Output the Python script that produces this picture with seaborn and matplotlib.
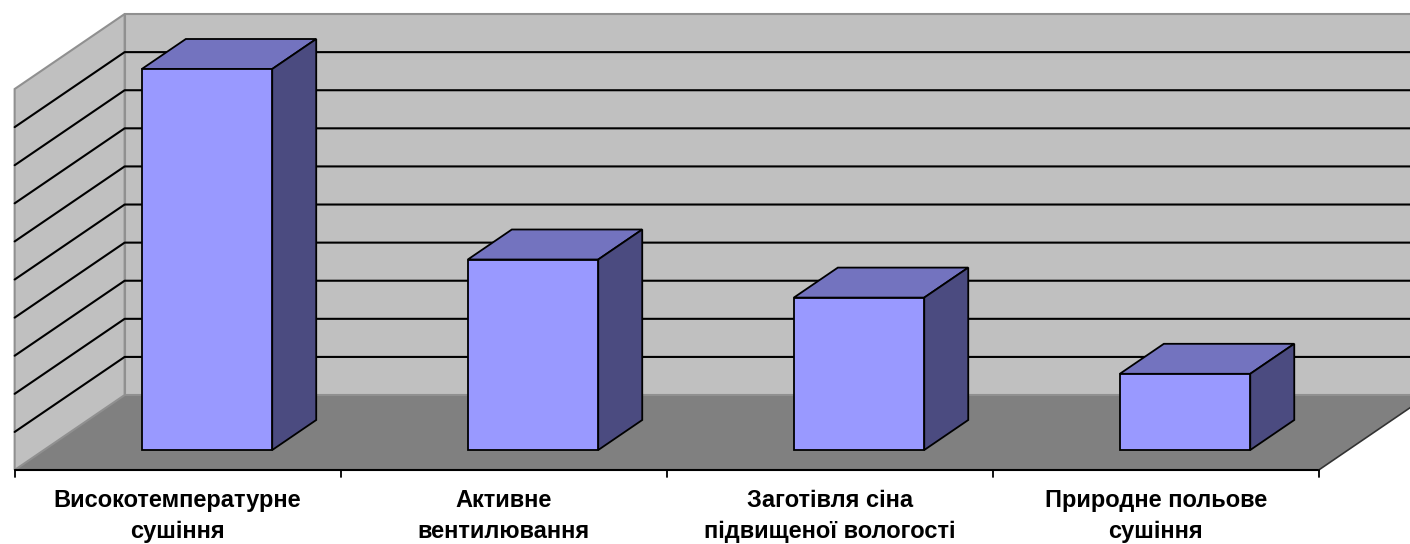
import matplotlib
matplotlib.use('Agg')
import matplotlib.pyplot as plt
import seaborn as sns
from matplotlib.patches import Polygon

# categories and values (no value axis shown on the original chart)
categories = ['Високотемпературне\nсушіння', 'Активне\nвентилювання',
              'Заготівля сіна\nпідвищеної вологості', 'Природне польове\nсушіння']
values = [10, 5, 4, 2]
grid_levels = list(range(0, 11))

front_col = '#9999FF'
top_col = '#7373BF'
side_col = '#4B4B80'
wall_col = '#C0C0C0'
floor_col = '#808080'

# oblique depth vector (full depth of the chart box) in data units
DX, DY = 0.3374, 1.9685
d_front, d_back = -0.267, 0.733   # floor front edge / back wall, relative to bar front plane
d_bar = 0.4                        # bar depth


def proj(x, v, d):
    return (x + d * DX, v + d * DY)


sns.set_style('white')
plt.rcParams['font.family'] = ['Liberation Sans', 'DejaVu Sans']

fig = plt.figure(figsize=(14.1, 5.44), dpi=100)
ax = fig.add_axes([0, 0, 1, 1])

sns.barplot(x=list(range(len(values))), y=values, width=0.4, color=front_col,
            saturation=1, edgecolor='black', linewidth=1.3, ax=ax, zorder=5)
bars = list(ax.patches)

x_lo, x_hi = -0.5, len(values) - 0.5
vmax = grid_levels[-1]

# floor
floor = [proj(x_lo, 0, d_front), proj(x_hi, 0, d_front),
         proj(x_hi, 0, d_back), proj(x_lo, 0, d_back)]
ax.add_patch(Polygon(floor, closed=True, facecolor=floor_col, edgecolor='none', zorder=1))
# back wall
back = [proj(x_lo, 0, d_back), proj(x_hi + 0.3, 0, d_back),
        proj(x_hi + 0.3, vmax, d_back), proj(x_lo, vmax, d_back)]
ax.add_patch(Polygon(back, closed=True, facecolor=wall_col, edgecolor='#909090',
                     linewidth=1.5, zorder=1))
# left wall
left = [proj(x_lo, 0, d_front), proj(x_lo, 0, d_back),
        proj(x_lo, vmax, d_back), proj(x_lo, vmax, d_front)]
ax.add_patch(Polygon(left, closed=True, facecolor=wall_col, edgecolor='#909090',
                     linewidth=1.5, zorder=1))

# gridlines on back and left walls
for g in grid_levels[1:-1]:
    a = proj(x_lo, g, d_front)
    b = proj(x_lo, g, d_back)
    c = proj(x_hi + 0.3, g, d_back)
    ax.plot([a[0], b[0], c[0]], [a[1], b[1], c[1]], color='black', linewidth=1.5, zorder=2)

# floor edges
f0, f1, f2 = proj(x_lo, 0, d_front), proj(x_hi, 0, d_front), proj(x_hi, 0, d_back)
ax.plot([f0[0], f1[0]], [f0[1], f1[1]], color='black', linewidth=1.5, zorder=3)
ax.plot([f1[0], f2[0]], [f1[1], f2[1]], color='#333333', linewidth=1.2, zorder=3)

# tick marks between categories
for k in range(len(values) + 1):
    tx, ty = proj(x_lo + k, 0, d_front)
    ax.plot([tx, tx], [ty, ty - 0.18], color='black', linewidth=1.3, zorder=3)

# 3D faces of the bars, derived from the bars seaborn drew
bdx, bdy = d_bar * DX, d_bar * DY
for p in bars:
    x0, w, h = p.get_x(), p.get_width(), p.get_height()
    top = [(x0, h), (x0 + w, h), (x0 + w + bdx, h + bdy), (x0 + bdx, h + bdy)]
    side = [(x0 + w, 0), (x0 + w + bdx, bdy), (x0 + w + bdx, h + bdy), (x0 + w, h)]
    ax.add_patch(Polygon(top, closed=True, facecolor=top_col, edgecolor='black',
                         linewidth=1.3, zorder=4))
    ax.add_patch(Polygon(side, closed=True, facecolor=side_col, edgecolor='black',
                         linewidth=1.3, zorder=4))

# category labels
for i, lab in enumerate(categories):
    lx, ly = proj(i, 0, d_front)
    ax.text(lx, ly - 0.5, lab, ha='center', va='top', fontsize=17, fontweight='bold',
            color='black', linespacing=1.45, zorder=6)

ax.set_xlim(-0.635, 3.690)
ax.set_ylim(-2.467, 11.811)
ax.axis('off')

fig.savefig('out.png', dpi=100)
